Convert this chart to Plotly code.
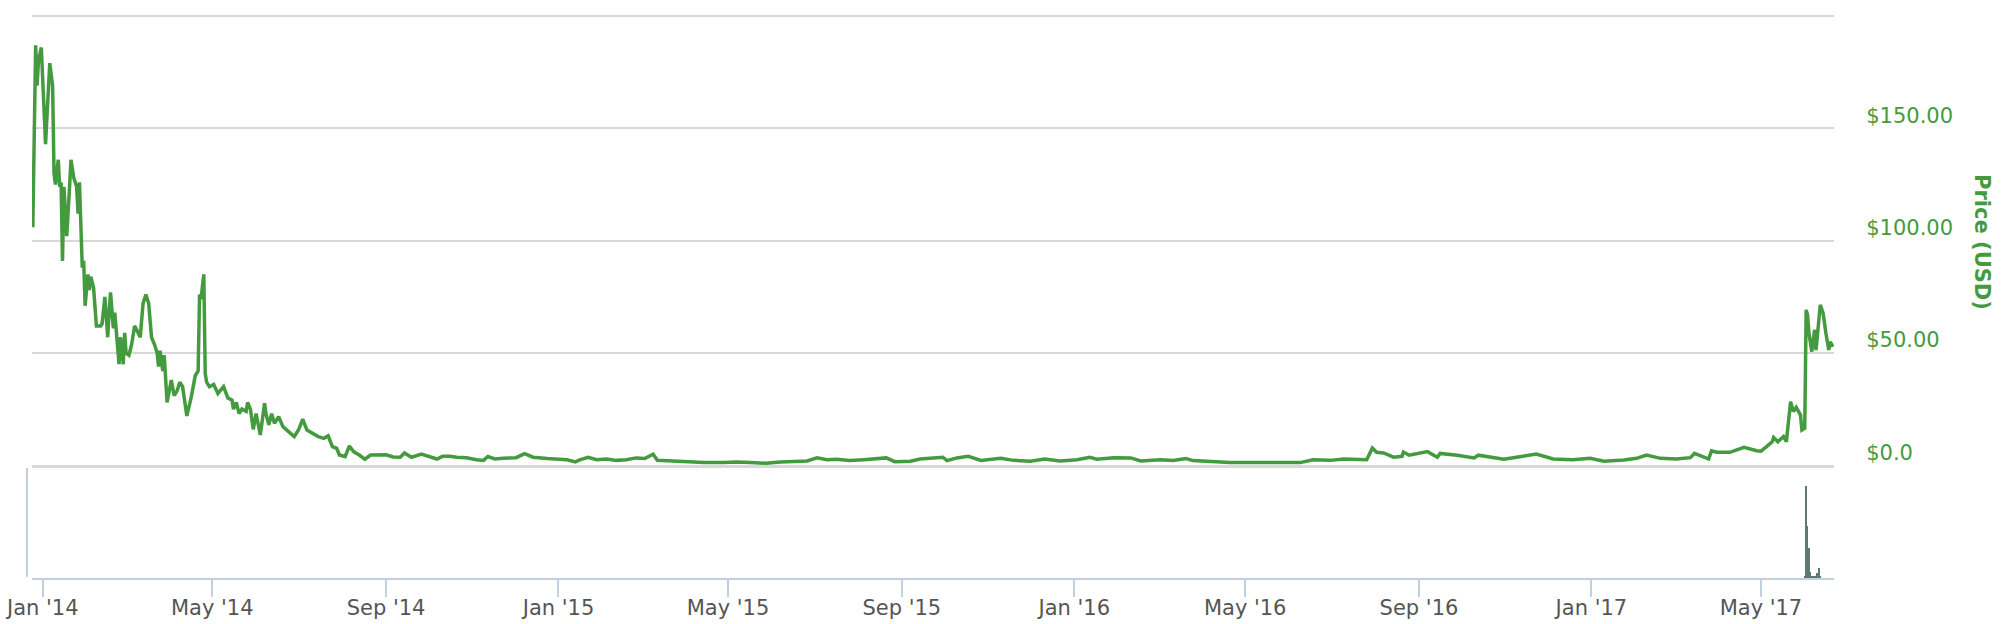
import plotly.graph_objects as go

# ---- Price (USD) series ----
price_dates = [
    "2013-12-25", "2013-12-27", "2013-12-28", "2013-12-29", "2013-12-31",
    "2014-01-01", "2014-01-03", "2014-01-06", "2014-01-08", "2014-01-09",
    "2014-01-10", "2014-01-12", "2014-01-13", "2014-01-14", "2014-01-15",
    "2014-01-16", "2014-01-18", "2014-01-20", "2014-01-21", "2014-01-23",
    "2014-01-25", "2014-01-26", "2014-01-27", "2014-01-29", "2014-01-30",
    "2014-01-31", "2014-02-02", "2014-02-03", "2014-02-04", "2014-02-06",
    "2014-02-08", "2014-02-11", "2014-02-12", "2014-02-14", "2014-02-16",
    "2014-02-17", "2014-02-18", "2014-02-20", "2014-02-21", "2014-02-24",
    "2014-02-25", "2014-02-27", "2014-02-28", "2014-03-01", "2014-03-03",
    "2014-03-05", "2014-03-07", "2014-03-08", "2014-03-11", "2014-03-13",
    "2014-03-15", "2014-03-17", "2014-03-19", "2014-03-21", "2014-03-23",
    "2014-03-24", "2014-03-25", "2014-03-27", "2014-03-28", "2014-03-30",
    "2014-03-31", "2014-04-02", "2014-04-04", "2014-04-06", "2014-04-08",
    "2014-04-10", "2014-04-13", "2014-04-16", "2014-04-19", "2014-04-21",
    "2014-04-22", "2014-04-23", "2014-04-25", "2014-04-26", "2014-04-27",
    "2014-04-29", "2014-05-02", "2014-05-05", "2014-05-09", "2014-05-12",
    "2014-05-15", "2014-05-16", "2014-05-18", "2014-05-20", "2014-05-22",
    "2014-05-25", "2014-05-26", "2014-05-28", "2014-05-30", "2014-06-01",
    "2014-06-04", "2014-06-07", "2014-06-08", "2014-06-10", "2014-06-12",
    "2014-06-14", "2014-06-17", "2014-06-20", "2014-06-24", "2014-06-28",
    "2014-07-01", "2014-07-04", "2014-07-07", "2014-07-10", "2014-07-15",
    "2014-07-19", "2014-07-22", "2014-07-25", "2014-07-28", "2014-07-30",
    "2014-08-03", "2014-08-06", "2014-08-09", "2014-08-13", "2014-08-17",
    "2014-08-21", "2014-08-27", "2014-09-01", "2014-09-06", "2014-09-11",
    "2014-09-14", "2014-09-19", "2014-09-26", "2014-10-02", "2014-10-07",
    "2014-10-11", "2014-10-16", "2014-10-21", "2014-10-28", "2014-11-04",
    "2014-11-09", "2014-11-12", "2014-11-17", "2014-11-23", "2014-12-02",
    "2014-12-08", "2014-12-14", "2014-12-24", "2014-12-31", "2015-01-07",
    "2015-01-13", "2015-01-16", "2015-01-22", "2015-01-28", "2015-02-04",
    "2015-02-11", "2015-02-18", "2015-02-25", "2015-03-03", "2015-03-09",
    "2015-03-12", "2015-03-21", "2015-04-02", "2015-04-14", "2015-04-28",
    "2015-05-07", "2015-05-17", "2015-05-28", "2015-06-07", "2015-06-19",
    "2015-06-26", "2015-07-03", "2015-07-10", "2015-07-17", "2015-07-26",
    "2015-08-05", "2015-08-10", "2015-08-21", "2015-08-27", "2015-09-07",
    "2015-09-14", "2015-09-30", "2015-10-03", "2015-10-10", "2015-10-18",
    "2015-10-27", "2015-11-10", "2015-11-19", "2015-12-01", "2015-12-11",
    "2015-12-22", "2016-01-03", "2016-01-12", "2016-01-17", "2016-01-29",
    "2016-02-10", "2016-02-17", "2016-03-02", "2016-03-11", "2016-03-20",
    "2016-03-25", "2016-04-09", "2016-04-20", "2016-05-05", "2016-05-19",
    "2016-05-31", "2016-06-09", "2016-06-18", "2016-06-30", "2016-07-10",
    "2016-07-19", "2016-07-26", "2016-07-30", "2016-08-02", "2016-08-07",
    "2016-08-14", "2016-08-20", "2016-08-21", "2016-08-25", "2016-09-01",
    "2016-09-07", "2016-09-14", "2016-09-16", "2016-09-28", "2016-10-10",
    "2016-10-13", "2016-10-19", "2016-10-31", "2016-11-09", "2016-11-23",
    "2016-12-05", "2016-12-19", "2016-12-31", "2017-01-10", "2017-01-24",
    "2017-02-02", "2017-02-09", "2017-02-19", "2017-03-02", "2017-03-12",
    "2017-03-15", "2017-03-20", "2017-03-25", "2017-03-27", "2017-03-31",
    "2017-04-09", "2017-04-16", "2017-04-19", "2017-04-28", "2017-05-01",
    "2017-05-05", "2017-05-09", "2017-05-10", "2017-05-13", "2017-05-17",
    "2017-05-19", "2017-05-22", "2017-05-24", "2017-05-26", "2017-05-29",
    "2017-05-30", "2017-06-01", "2017-06-02", "2017-06-03", "2017-06-04",
    "2017-06-06", "2017-06-08", "2017-06-09", "2017-06-12", "2017-06-14",
    "2017-06-16", "2017-06-17", "2017-06-18", "2017-06-19", "2017-06-21",
]
price_usd = [
    106, 187, 169, 180, 186,
    171, 143, 179, 169, 130,
    125, 136, 124, 126, 91,
    124, 102, 124, 136, 128,
    124, 112, 126, 88, 91,
    71, 85, 78, 84, 79,
    62, 62, 63, 75, 57,
    68, 77, 61, 68, 45,
    57, 45, 59, 50, 49,
    54, 62, 61, 57, 72,
    76, 72, 57, 54, 50,
    44, 51, 42, 49, 28,
    31, 38, 31, 33, 37,
    35, 22, 30, 40, 42,
    76, 74, 85, 41, 37,
    35, 36, 32, 35, 30,
    29, 25, 28, 23, 25,
    24, 28, 25, 16, 23,
    13.5, 27.6, 23, 18, 23,
    18.7, 21.7, 17.2, 15, 12.8,
    15.7, 20.5, 15.7, 14.5, 12.8,
    12, 13.1, 8.3, 7.6, 4.6,
    3.9, 8.6, 6.1, 4.6, 2.7,
    4.6, 4.8, 4.7, 3.7, 3.6,
    5.5, 3.6, 5.0, 3.6, 2.8,
    4.0, 4.0, 3.6, 3.4, 2.5,
    2.2, 3.9, 2.8, 3.1, 3.4,
    5.2, 3.6, 3.0, 2.8, 2.5,
    1.5, 2.4, 3.6, 2.5, 2.8,
    2.2, 2.5, 3.3, 3.0, 4.9,
    2.2, 1.9, 1.8, 1.3, 1.3,
    1.5, 1.3, 0.9, 1.5, 1.8,
    1.9, 3.3, 2.5, 2.7, 2.1,
    2.5, 2.8, 3.3, 1.6, 1.8,
    2.8, 3.6, 2.1, 3.3, 4.0,
    2.2, 3.1, 2.2, 1.8, 2.8,
    1.9, 2.5, 3.6, 2.7, 3.4,
    3.3, 1.9, 2.5, 2.1, 3.0,
    2.1, 1.8, 1.2, 1.3, 1.3,
    1.5, 1.2, 2.5, 2.2, 2.8,
    2.5, 2.5, 7.7, 5.8, 5.5,
    3.6, 4.0, 5.9, 4.5, 5.5,
    6.1, 3.6, 5.3, 4.5, 3.3,
    4.5, 4.0, 2.7, 3.6, 5.0,
    2.8, 2.5, 3.1, 1.8, 2.4,
    3.1, 4.6, 3.1, 2.8, 3.4,
    5.3, 4.0, 2.8, 6.4, 5.8,
    5.8, 7.3, 8.0, 6.5, 6.3,
    8.3, 10.5, 12.4, 10.5, 12.8,
    10.5, 28.3, 23.9, 25.8, 22.4,
    15.7, 16.5, 69.2, 66.9, 58.8,
    50.6, 60.3, 51.3, 71.4, 67.7,
    58.8, 55.8, 51.3, 55.0, 52.8,
]

# ---- Volume series ----
volume_dates = [
    "2017-06-01", "2017-06-02", "2017-06-03", "2017-06-04", "2017-06-05",
    "2017-06-06", "2017-06-07", "2017-06-08", "2017-06-09", "2017-06-10",
    "2017-06-11", "2017-06-12",
]
volume = [0.4, 27.4, 15.4, 8.9, 1.7, 0.4, 0.4, 0.4, 0.4, 1.4, 2.7, 0.4]

# ---- Axis ticks ----
price_tickvals = [0, 50, 100, 150, 200]
price_ticktext = ["$0.0", "$50.00", "$100.00", "$150.00", ""]
x_range = ["2013-12-24 10:00", "2017-06-21 17:00"]

GREEN = "#449a3e"
AXIS_BLUE = "#c0d0e0"
GRID = "#d8d8d8"
FONT = "DejaVu Sans"

fig = go.Figure()
fig.add_trace(go.Scatter(
    x=price_dates, y=price_usd, mode="lines",
    line=dict(color=GREEN, width=3.5), xaxis="x", yaxis="y",
    name="Price (USD)", hoverinfo="skip",
))
fig.add_trace(go.Bar(
    x=volume_dates, y=volume, xaxis="x2", yaxis="y2",
    marker=dict(color="#5f7b70", line=dict(width=0)),
    name="Volume", hoverinfo="skip",
))

fig.update_layout(
    template="none",
    width=2006, height=624,
    margin=dict(l=32, r=172, t=14, b=46),
    paper_bgcolor="white", plot_bgcolor="white",
    showlegend=False,
    bargap=0,
    font=dict(family=FONT),
    xaxis=dict(
        domain=[0, 1], anchor="y", type="date", range=x_range,
        showticklabels=False, ticks="", showgrid=False, zeroline=False,
        showline=True, linecolor=GRID, linewidth=3, layer="below traces",
        automargin=False,
    ),
    yaxis=dict(
        domain=[0.1998, 1], anchor="x", side="right", range=[0, 200.9],
        tickmode="array", tickvals=price_tickvals, ticktext=price_ticktext,
        showgrid=True, gridcolor=GRID, gridwidth=2, zeroline=False,
        showline=False, ticks="outside", ticklen=27,
        tickcolor="rgba(0,0,0,0)",
        tickfont=dict(family=FONT, size=21, color=GREEN),
        ticklabelshift=-13, automargin=False,
    ),
    xaxis2=dict(
        domain=[0, 1], anchor="y2", type="date", range=x_range,
        tickformat="%b '%y", dtick="M4", tick0="2014-01-01",
        ticks="outside", ticklen=17, tickwidth=2, tickcolor=AXIS_BLUE,
        showline=True, linecolor=AXIS_BLUE, linewidth=2,
        showgrid=False, zeroline=False,
        tickfont=dict(family=FONT, size=21, color="#555555"),
        ticklabelstandoff=-7,
        automargin=False,
    ),
    yaxis2=dict(
        domain=[0, 0.1977], anchor="x2", range=[0, 33.4],
        showticklabels=False, showgrid=False, zeroline=False,
        showline=False, ticks="", automargin=False,
    ),
    shapes=[dict(
        type="line", xref="paper", yref="paper",
        x0=-0.0028, x1=-0.0028, y0=0.002, y1=0.195,
        line=dict(color=AXIS_BLUE, width=2),
    )],
    annotations=[dict(
        text="<b>Price (USD)</b>", xref="paper", yref="paper",
        x=1.0821, y=0.5957, showarrow=False, textangle=90,
        xanchor="center", yanchor="middle",
        font=dict(family=FONT, size=21, color=GREEN),
    )],
)

fig.write_html(
    "out.html",
    config={"displayModeBar": False},
    post_script="document.body.style.margin='0';document.body.style.overflow='hidden';",
)
